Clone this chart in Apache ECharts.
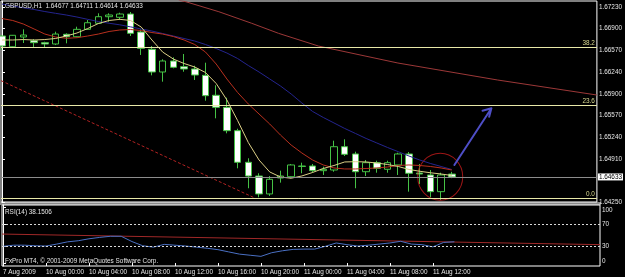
<!DOCTYPE html>
<html><head><meta charset="utf-8">
<script src="https://cdn.jsdelivr.net/npm/echarts@6/dist/echarts.min.js"></script>
<style>html,body{margin:0;padding:0;background:#000}#c{width:625px;height:277px}</style>
</head><body><div id="c"></div>
<script>
// ---------------- data ----------------
const symbolName = 'GBPUSD,H1';
const opens  = [1.66787,1.66623,1.66772,1.66715,1.66685,1.66665,1.66813,1.66776,1.66889,1.66981,1.67082,1.67073,1.67123,1.66848,1.66584,1.66237,1.66405,1.66318,1.66283,1.66186,1.65881,1.65697,1.65340,1.64857,1.64647,1.64373,1.64617,1.64637,1.64793,1.64800,1.64729,1.64739,1.65095,1.64984,1.64713,1.64851,1.64750,1.64816,1.64984,1.64693,1.64663,1.64408,1.64677];
const closes = [1.66634,1.66798,1.66802,1.66685,1.66665,1.66817,1.66776,1.66889,1.66990,1.67082,1.67108,1.67123,1.66828,1.66599,1.66237,1.66405,1.66309,1.66283,1.66191,1.65875,1.65697,1.65340,1.64857,1.64647,1.64373,1.64597,1.64647,1.64816,1.64800,1.64729,1.64750,1.65095,1.64979,1.64713,1.64851,1.64765,1.64851,1.64984,1.64689,1.64678,1.64408,1.64663,1.64633];
const lows   = [1.66573,1.66619,1.66680,1.66619,1.66614,1.66649,1.66675,1.66767,1.66879,1.66970,1.67005,1.67031,1.66787,1.66497,1.66186,1.66089,1.66293,1.66241,1.66115,1.65798,1.65529,1.65300,1.64765,1.64460,1.64322,1.64342,1.64546,1.64613,1.64689,1.64698,1.64663,1.64713,1.64953,1.64460,1.64647,1.64698,1.64698,1.64663,1.64408,1.64525,1.64322,1.64281,1.64614];
const highs  = [1.66802,1.66802,1.66889,1.66741,1.66700,1.66853,1.66828,1.66929,1.67031,1.67134,1.67134,1.67143,1.67154,1.66889,1.66634,1.66431,1.66461,1.66512,1.66333,1.66379,1.66034,1.65844,1.65370,1.64918,1.64689,1.64647,1.64729,1.64831,1.64851,1.64831,1.64790,1.65187,1.65208,1.65019,1.64892,1.64881,1.64881,1.65003,1.65014,1.64831,1.64739,1.64698,1.64711];

const maFast = [1.66726,1.66726,1.66733,1.66726,1.66733,1.66749,1.66787,1.66833,1.66901,1.66978,1.67024,1.67042,1.67024,1.66924,1.66726,1.66542,1.66435,1.66367,1.66313,1.66229,1.66061,1.65809,1.65495,1.65159,1.64892,1.64709,1.64632,1.64613,1.64648,1.64701,1.64762,1.64808,1.64862,1.64866,1.64862,1.64846,1.64823,1.64793,1.64747,1.64720,1.64697,1.64678,1.64655];
const maMid  = [1.67054,1.67024,1.66970,1.66894,1.66817,1.66772,1.66752,1.66761,1.66787,1.66817,1.66856,1.66879,1.66886,1.66871,1.66840,1.66817,1.66779,1.66726,1.66657,1.66542,1.66359,1.66130,1.65924,1.65748,1.65595,1.65442,1.65274,1.65121,1.64999,1.64892,1.64816,1.64770,1.64755,1.64755,1.64762,1.64770,1.64785,1.64808,1.64816,1.64808,1.64793,1.64770,1.64739];
const maSlow = [1.67276,1.67245,1.67218,1.67192,1.67161,1.67134,1.67108,1.67077,1.67042,1.67008,1.66982,1.66958,1.66927,1.66894,1.66863,1.66825,1.66787,1.66749,1.66710,1.66657,1.66596,1.66527,1.66443,1.66336,1.66237,1.66130,1.66023,1.65901,1.65763,1.65634,1.65542,1.65458,1.65374,1.65298,1.65221,1.65152,1.65083,1.65019,1.64953,1.64892,1.64839,1.64793,1.64747];

// long maroon line: [bar index, price]
const longLine = [[16.5,1.67335],[17.16,1.67311],[20.25,1.67158],[23.32,1.66981],[25.82,1.66828],[29.54,1.66634],[36.97,1.66374],[46.26,1.66115],[55.55,1.65885]];
// dotted red trend line: [bar index, price]
const trendDotted = [[-0.093,1.66105],[23.5,1.64319]];
// Fibonacci levels
const fibPrices = [1.66614, 1.65733, 1.64311];
const fibNames  = ['38.2', '23.6', '0.0'];
const lastPrice = 1.64633;
// annotations
const circleCenter = [40.92, 1.64637];
const arrowPath = [[42.24,1.64816],[45.70,1.65682],[44.87,1.65645],[45.70,1.65682],[45.49,1.65554]];

// RSI
const rsiValues = [30,32,32,31,30.5,34,38,40,43.5,46,48,48,38.5,31,28.5,33.5,32,30.5,28.5,26.5,24,20,16,14,12,18.5,22,24.5,25,25,30,36,33,30.5,32,34,36,39,34,33,29,37,38.1506];
const rsiTrend = [[-0.093,52],[55.55,33]];
const rsiLevels = [30, 70];
const rsiTicks = [0, 30, 70, 100];

// axes
const priceTicks = [1.67230,1.66900,1.66570,1.66240,1.65900,1.65570,1.65240,1.64910,1.64250];
const timeTickIdx = [0,4,8,12,16,20,24,28,32,36,40];
const timeTickLabels = ['7 Aug 2009','10 Aug 00:00','10 Aug 04:00','10 Aug 08:00','10 Aug 12:00','10 Aug 16:00','10 Aug 20:00','11 Aug 00:00','11 Aug 04:00','11 Aug 08:00','11 Aug 12:00'];

// ---------------- chart ----------------
const FONT = "'Liberation Sans', Arial, sans-serif";
const FS = 6.4;
const TXT = '#e6e6e6';
const X_MIN = -0.093, X_MAX = 55.55;

const n = opens.length;
const candles = opens.map((o, i) => [i, o, closes[i], lows[i], highs[i]]);
const idx = a => a.map((v, i) => [i, v]);
const lastO = opens[n-1], lastH = highs[n-1], lastL = lows[n-1], lastC = closes[n-1];

const chart = echarts.init(document.getElementById('c'), null, {renderer: 'canvas'});
chart.setOption({
  backgroundColor: '#000',
  animation: false,
  title: [
    {text: symbolName + '  ' + [lastO, lastH, lastL, lastC].map(v => v.toFixed(5)).join(' '),
     left: 5, top: 3, padding: 0, textStyle: {color: TXT, fontSize: FS, fontWeight: 'normal', fontFamily: FONT}},
    {text: 'RSI(14) ' + rsiValues[rsiValues.length-1].toFixed(4),
     left: 5, top: 209, padding: 0, textStyle: {color: TXT, fontSize: FS, fontWeight: 'normal', fontFamily: FONT}},
    {text: 'FxPro MT4, \u00a9 2001-2009 MetaQuotes Software Corp.',
     left: 5, top: 258, padding: 0, textStyle: {color: TXT, fontSize: FS, fontWeight: 'normal', fontFamily: FONT}}
  ],
  graphic: [
    {type: 'rect', left: 0, top: 202, shape: {width: 601, height: 3}, style: {fill: '#8a8a8a'}, z: -1}
  ],
  grid: [
    {left: 1, top: 1, width: 599, height: 201, show: true, borderColor: '#ffffff', borderWidth: 1, backgroundColor: '#000'},
    {left: 1, top: 205, width: 599, height: 61, show: true, borderColor: '#ffffff', borderWidth: 1, backgroundColor: '#000'}
  ],
  xAxis: [
    {gridIndex: 0, type: 'value', min: X_MIN, max: X_MAX, show: false},
    {gridIndex: 1, type: 'value', min: X_MIN, max: X_MAX,
     axisLine: {show: false}, splitLine: {show: false},
     axisTick: {show: true, length: 3, customValues: timeTickIdx, lineStyle: {color: '#fff'}},
     axisLabel: {show: true, customValues: timeTickIdx, align: 'left', margin: 3,
       color: TXT, fontSize: FS, fontFamily: FONT,
       formatter: v => timeTickLabels[timeTickIdx.indexOf(Math.round(v))] || ''}}
  ],
  yAxis: [
    {gridIndex: 0, type: 'value', position: 'right', min: 1.6425, max: 1.67322, scale: true,
     splitLine: {show: false}, axisLine: {show: true, lineStyle: {color: '#fff'}},
     axisTick: {show: true, length: 3, customValues: priceTicks, lineStyle: {color: '#fff'}},
     axisLabel: {show: true, customValues: priceTicks, margin: 2, color: TXT, fontSize: FS, fontFamily: FONT,
       formatter: v => v.toFixed(5)}},
    {gridIndex: 1, type: 'value', position: 'right', min: -5.3, max: 104.1,
     splitLine: {show: false}, axisLine: {show: true, lineStyle: {color: '#fff'}},
     axisTick: {show: true, length: 3, customValues: rsiTicks, lineStyle: {color: '#fff'}},
     axisLabel: {show: true, customValues: rsiTicks, margin: 2, color: TXT, fontSize: FS, fontFamily: FONT,
       formatter: v => v === 100 ? '{t|100}' : (v === 0 ? '{b|0}' : String(v)),
       rich: {t: {padding: [6, 0, 0, 0], color: TXT, fontSize: FS, fontFamily: FONT},
              b: {padding: [0, 0, 4, 0], color: TXT, fontSize: FS, fontFamily: FONT}}}}
  ],
  series: [
    {type: 'line', xAxisIndex: 0, yAxisIndex: 0, data: [], silent: true,
     markLine: {silent: true, symbol: 'none', animation: false, precision: 5,
       data: fibPrices.map((p, k) => ({yAxis: p, name: fibNames[k]})),
       lineStyle: {color: '#e8e8a8', type: 'solid', width: 1},
       label: {show: true, position: 'insideEndTop', distance: [2, 1], formatter: p => p.name,
         color: '#d8d890', fontSize: FS, fontFamily: FONT}}},
    {type: 'line', xAxisIndex: 0, yAxisIndex: 0, data: [], silent: true,
     markLine: {silent: true, symbol: 'none', animation: false, precision: 5,
       data: [{yAxis: lastPrice}],
       lineStyle: {color: '#8c8c8c', type: 'solid', width: 1},
       label: {show: true, position: 'end', distance: 1, formatter: () => lastPrice.toFixed(5),
         color: '#000', backgroundColor: '#fff', padding: [1, 1, 0, 1], fontSize: FS, fontFamily: FONT}}},
    {type: 'line', xAxisIndex: 0, yAxisIndex: 0, data: trendDotted, showSymbol: false, silent: true,
     lineStyle: {color: '#b02222', width: 1, type: [3, 2]}},
    {type: 'candlestick', xAxisIndex: 0, yAxisIndex: 0, data: candles, encode: {x: 0, y: [1, 2, 3, 4]},
     barWidth: 7, silent: true,
     itemStyle: {color: '#000000', color0: '#ffffff', borderColor: '#45c245', borderColor0: '#45c245', borderWidth: 1}},
    {type: 'line', xAxisIndex: 0, yAxisIndex: 0, data: longLine, showSymbol: false, silent: true,
     lineStyle: {color: '#9c3838', width: 1}},
    {type: 'line', xAxisIndex: 0, yAxisIndex: 0, data: idx(maSlow), showSymbol: false, silent: true,
     lineStyle: {color: '#24248e', width: 1}},
    {type: 'line', xAxisIndex: 0, yAxisIndex: 0, data: idx(maMid), showSymbol: false, silent: true,
     lineStyle: {color: '#b8301e', width: 1}},
    {type: 'line', xAxisIndex: 0, yAxisIndex: 0, data: idx(maFast), showSymbol: false, silent: true,
     lineStyle: {color: '#dccf86', width: 1}},
    {type: 'scatter', xAxisIndex: 0, yAxisIndex: 0, data: [circleCenter], symbol: 'circle', symbolSize: [45, 47],
     silent: true, itemStyle: {color: 'rgba(0,0,0,0)', borderColor: '#c41c1c', borderWidth: 1}},
    {type: 'line', xAxisIndex: 0, yAxisIndex: 0, data: arrowPath, showSymbol: false, silent: true,
     lineStyle: {color: '#4e4ec6', width: 2, cap: 'round', join: 'round'}},
    // RSI panel
    {type: 'line', xAxisIndex: 1, yAxisIndex: 1, data: rsiTrend, showSymbol: false, silent: true,
     lineStyle: {color: '#a02828', width: 1}},
    {type: 'line', xAxisIndex: 1, yAxisIndex: 1, data: idx(rsiValues), showSymbol: false, silent: true,
     lineStyle: {color: '#4a70c4', width: 1},
     markLine: {silent: true, symbol: 'none', animation: false, precision: 5,
       data: rsiLevels.map(v => ({yAxis: v})),
       lineStyle: {color: '#d8d8d8', type: [2, 2], width: 1}, label: {show: false}}}
  ]
});
</script>
</body></html>
